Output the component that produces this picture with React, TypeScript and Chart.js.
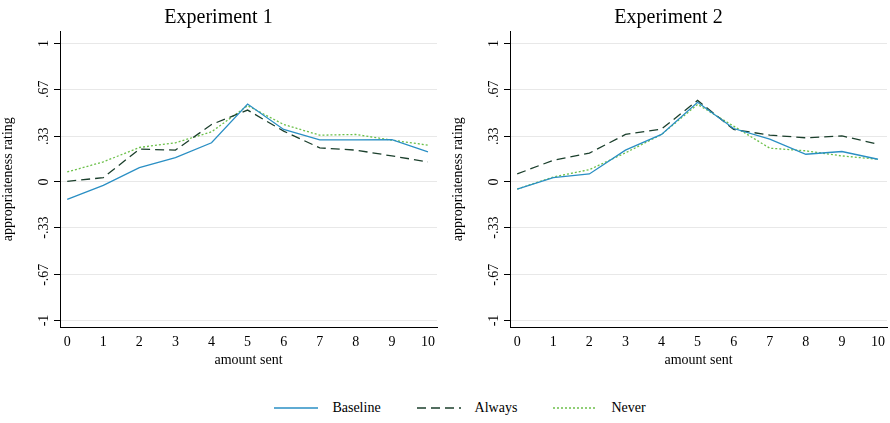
import { useEffect, useRef } from 'react';
import { Chart, registerables } from 'chart.js';

Chart.register(...registerables);

const amounts = [0, 1, 2, 3, 4, 5, 6, 7, 8, 9, 10];
const yTicks = [-1, -0.67, -0.33, 0, 0.33, 0.67, 1];
const yTickLabels = ['-1', '-.67', '-.33', '0', '.33', '.67', '1'];

const exp1Baseline = [-0.125, -0.024, 0.104, 0.176, 0.283, 0.563, 0.379, 0.304, 0.304, 0.306, 0.217];
const exp1Always = [0.005, 0.031, 0.237, 0.23, 0.415, 0.519, 0.367, 0.246, 0.23, 0.188, 0.145];
const exp1Never = [0.072, 0.145, 0.249, 0.283, 0.362, 0.551, 0.415, 0.338, 0.343, 0.302, 0.266];

const exp2Baseline = [-0.051, 0.031, 0.058, 0.23, 0.343, 0.575, 0.386, 0.309, 0.2, 0.22, 0.164];
const exp2Always = [0.058, 0.157, 0.208, 0.343, 0.382, 0.589, 0.379, 0.338, 0.319, 0.333, 0.273];
const exp2Never = [-0.051, 0.036, 0.089, 0.21, 0.343, 0.56, 0.403, 0.244, 0.225, 0.188, 0.164];

const FONT = '"Liberation Serif", "DejaVu Serif", serif';
const BLUE = '#2a8fc4';
const DARK = '#1b3f2c';
const GREEN = '#6cc04a';

const rotatedYLabels = {
  id: 'rotatedYLabels',
  afterDraw(chart: any) {
    const y = chart.scales.y;
    const ctx = chart.ctx;
    ctx.save();
    ctx.font = `14px ${FONT}`;
    ctx.fillStyle = '#000';
    ctx.textAlign = 'center';
    ctx.textBaseline = 'bottom';
    yTicks.forEach((v, i) => {
      const py = y.getPixelForValue(v);
      ctx.save();
      ctx.translate(y.right - 9, py);
      ctx.rotate(-Math.PI / 2);
      ctx.fillText(yTickLabels[i], 0, 0);
      ctx.restore();
    });
    ctx.restore();
  },
};

function Panel({ title, series }: { title: string; series: number[][] }) {
  const ref = useRef<HTMLCanvasElement>(null);
  useEffect(() => {
    if (!ref.current) return;
    const mk = (d: number[]) => amounts.map((x, i) => ({ x, y: d[i] }));
    const chart = new Chart(ref.current, {
      type: 'line',
      data: {
        datasets: [
          { label: 'Baseline', data: mk(series[0]), borderColor: BLUE, borderWidth: 1.3, pointRadius: 0, tension: 0 },
          { label: 'Always', data: mk(series[1]), borderColor: DARK, borderWidth: 1.3, borderDash: [9, 5], pointRadius: 0, tension: 0 },
          { label: 'Never', data: mk(series[2]), borderColor: GREEN, borderWidth: 1.3, borderDash: [2, 2], pointRadius: 0, tension: 0 },
        ],
      },
      options: {
        animation: false,
        responsive: false,
        layout: { padding: { left: 0, right: 8, top: 0, bottom: 0 } },
        plugins: {
          legend: { display: false },
          tooltip: { enabled: false },
          title: { display: true, text: title, color: '#000', font: { family: FONT, size: 20, weight: 'normal' }, padding: { top: 6, bottom: 1 } },
        },
        scales: {
          x: {
            type: 'linear',
            min: -0.2,
            max: 10.25,
            afterBuildTicks: (s: any) => { s.ticks = amounts.map((v) => ({ value: v })); },
            grid: { display: false, drawTicks: true, tickLength: 6, color: '#000' },
            border: { color: '#000' },
            ticks: { color: '#000', font: { family: FONT, size: 14 }, padding: 1, maxRotation: 0 },
            title: { display: true, text: 'amount sent', color: '#000', font: { family: FONT, size: 14 }, padding: 0 },
          },
          y: {
            min: -1.05,
            max: 1.09,
            afterBuildTicks: (s: any) => { s.ticks = yTicks.map((v) => ({ value: v })); },
            grid: { color: '#e8e8e8', tickLength: 6, tickColor: '#000' },
            border: { color: '#000' },
            afterFit: (s: any) => { s.width = 60; },
            ticks: { display: true, color: 'rgba(0,0,0,0)', font: { family: FONT, size: 14 } },
            title: { display: true, text: 'appropriateness rating', color: '#000', font: { family: FONT, size: 14 }, padding: 0 },
          },
        },
      },
      plugins: [rotatedYLabels],
    });
    return () => chart.destroy();
  }, [title, series]);
  return <canvas ref={ref} width={445} height={369} />;
}

function LegendItem({ label, color, dash }: { label: string; color: string; dash?: string }) {
  return (
    <span style={{ display: 'inline-flex', alignItems: 'center', margin: '0 18px' }}>
      <svg width={44} height={10}>
        <line x1={0} y1={5} x2={44} y2={5} stroke={color} strokeWidth={1.3} strokeDasharray={dash} />
      </svg>
      <span style={{ marginLeft: 14 }}>{label}</span>
    </span>
  );
}

export default function App() {
  document.body.style.margin = '0';
  return (
    <div style={{ width: 890, height: 423, background: '#fff', fontFamily: FONT, fontSize: 14 }}>
      <div style={{ display: 'flex' }}>
        <Panel title="Experiment 1" series={[exp1Baseline, exp1Always, exp1Never]} />
        <div style={{ marginLeft: 5 }}>
          <Panel title="Experiment 2" series={[exp2Baseline, exp2Always, exp2Never]} />
        </div>
      </div>
      <div style={{ display: 'flex', justifyContent: 'center', marginTop: 31, paddingLeft: 30 }}>
        <LegendItem label="Baseline" color={BLUE} />
        <LegendItem label="Always" color={DARK} dash="9 5" />
        <LegendItem label="Never" color={GREEN} dash="2 2" />
      </div>
    </div>
  );
}
